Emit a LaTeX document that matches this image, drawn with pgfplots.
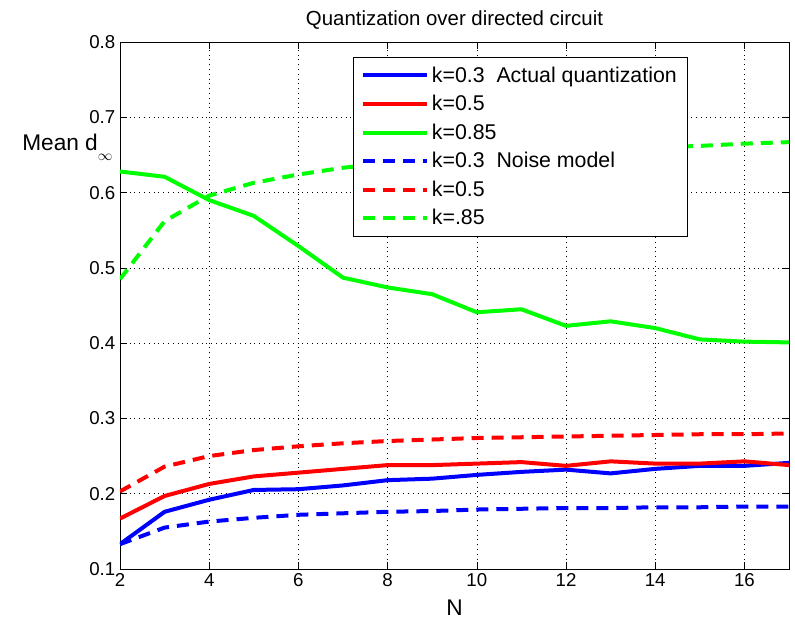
\documentclass[border=0pt]{standalone}
\usepackage{pgfplots}
\pgfplotsset{compat=1.18}
\usepackage{fontspec}
\setmainfont{Liberation Sans}

\definecolor{mblue}{RGB}{0,0,255}
\definecolor{mred}{RGB}{255,0,0}
\definecolor{mgreen}{RGB}{0,255,0}

\begin{document}
\begin{tikzpicture}[x=0.75pt,y=0.75pt]
% canvas: 795x622 px, axis box 120..789 x 42..569
\useasboundingbox (-120,-53) rectangle (675,569);
\begin{axis}[
    scale only axis,
    width=501.75pt, height=395.25pt,
    xmin=2, xmax=17, ymin=0.1, ymax=0.8,
    xtick={2,4,...,16},
    ytick={0.1,0.2,...,0.8},
    yticklabel style={/pgf/number format/fixed, /pgf/number format/precision=1, /pgf/number format/fixed zerofill},
    /pgf/number format/assume math mode=true,
    tick align=inside,
    tick style={black, thin},
    major tick length=5pt,
    grid=major,
    grid style={black, line width=0.4pt, dash pattern=on 0.6pt off 3pt},
    axis line style={black, line width=0.6pt},
    tick label style={font=\fontsize{14}{16}\selectfont},
    title={Quantization over directed circuit},
    title style={font=\fontsize{15.3}{17}\selectfont, yshift=0pt},
    xlabel={N},
    xlabel style={font=\fontsize{17}{19}\selectfont, yshift=-3pt},
    legend style={at={(0.348,0.9715)}, anchor=north west, draw=black, line width=0.6pt,
                  font=\fontsize{16}{18}\selectfont, row sep=4.3pt,
                  inner xsep=6pt, inner ysep=5pt},
    legend cell align=left,
    legend image code/.code={\draw[#1] (0pt,0pt) -- (48pt,0pt);},
    every axis plot/.append style={line width=3pt},
  ]
  \addplot[mblue] coordinates {
    (2,0.133) (3,0.176) (4,0.192) (5,0.205) (6,0.206) (7,0.211) (8,0.218) (9,0.220)
    (10,0.225) (11,0.229) (12,0.232) (13,0.227) (14,0.233) (15,0.237) (16,0.237) (17,0.241)
  };
  \addlegendentry{k=0.3\ \ Actual quantization}
  \addplot[mred] coordinates {
    (2,0.167) (3,0.197) (4,0.213) (5,0.223) (6,0.228) (7,0.233) (8,0.238) (9,0.238)
    (10,0.240) (11,0.242) (12,0.237) (13,0.243) (14,0.240) (15,0.240) (16,0.243) (17,0.238)
  };
  \addlegendentry{k=0.5}
  \addplot[mgreen] coordinates {
    (2,0.628) (3,0.621) (4,0.590) (5,0.569) (6,0.529) (7,0.487) (8,0.474) (9,0.465)
    (10,0.441) (11,0.445) (12,0.423) (13,0.429) (14,0.420) (15,0.405) (16,0.402) (17,0.401)
  };
  \addlegendentry{k=0.85}
  \addplot[mblue, dash pattern=on 9pt off 6pt] coordinates {
    (2,0.133) (3,0.155) (4,0.163) (5,0.168) (6,0.172) (7,0.174) (8,0.176) (9,0.177)
    (10,0.179) (11,0.180) (12,0.181) (13,0.181) (14,0.182) (15,0.182) (16,0.183) (17,0.183)
  };
  \addlegendentry{k=0.3\ \ Noise model}
  \addplot[mred, dash pattern=on 9pt off 6pt] coordinates {
    (2,0.203) (3,0.236) (4,0.250) (5,0.258) (6,0.263) (7,0.267) (8,0.270) (9,0.272)
    (10,0.274) (11,0.275) (12,0.276) (13,0.277) (14,0.278) (15,0.279) (16,0.279) (17,0.280)
  };
  \addlegendentry{k=0.5}
  \addplot[mgreen, dash pattern=on 9pt off 6pt] coordinates {
    (2,0.485) (3,0.562) (4,0.596) (5,0.613) (6,0.624) (7,0.633) (8,0.639) (9,0.644)
    (10,0.648) (11,0.651) (12,0.654) (13,0.657) (14,0.660) (15,0.662) (16,0.665) (17,0.667)
  };
  \addlegendentry{k=.85}
\end{axis}
\node[anchor=base west, font=\fontsize{17}{19}\selectfont, inner sep=0pt]
  at (-98,418) {Mean d\raisebox{-7pt}{\fontsize{11}{12}\selectfont$\infty$}};
\end{tikzpicture}
\end{document}
